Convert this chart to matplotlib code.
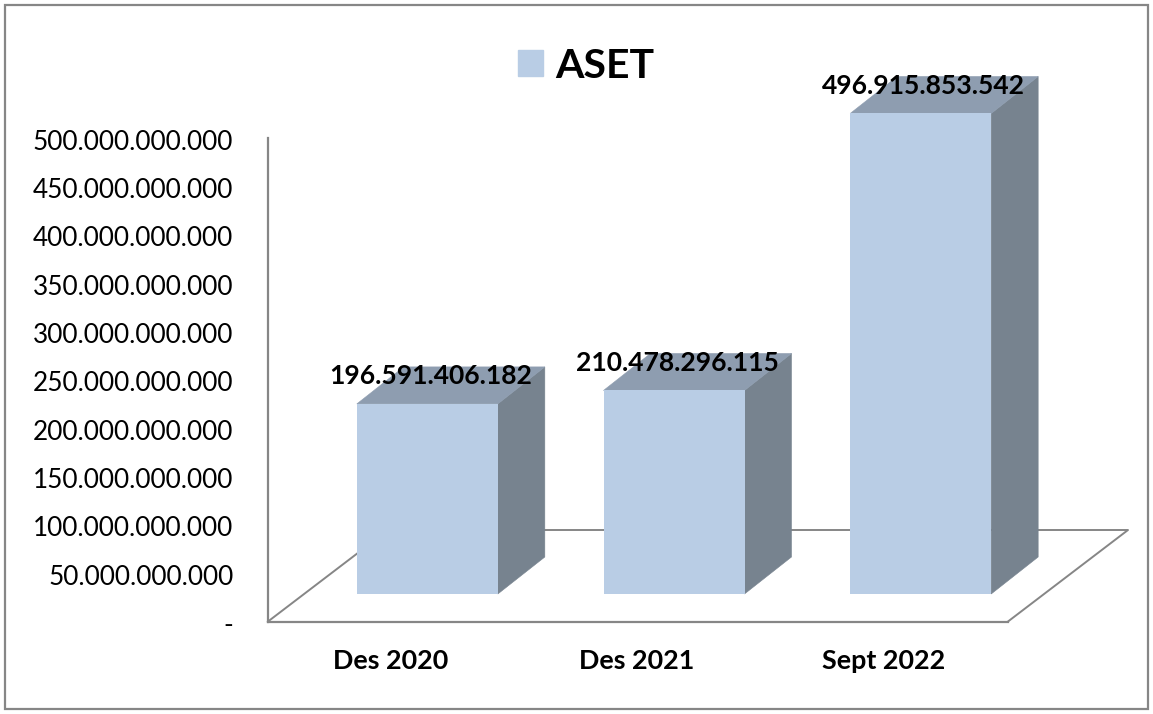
import matplotlib
matplotlib.use("Agg")
import matplotlib.pyplot as plt
from matplotlib.patches import Patch, Rectangle
from matplotlib.transforms import Affine2D, ScaledTranslation

plt.rcParams["font.family"] = ["Lato", "DejaVu Sans"]

categories = ["Des 2020", "Des 2021", "Sept 2022"]
aset = [196591406182, 210478296115, 496915853542]
aset_labels = ["196.591.406.182", "210.478.296.115", "496.915.853.542"]
y_ticks = [0, 50e9, 100e9, 150e9, 200e9, 250e9, 300e9, 350e9, 400e9, 450e9, 500e9]
y_tick_labels = ["-", "50.000.000.000", "100.000.000.000", "150.000.000.000",
                 "200.000.000.000", "250.000.000.000", "300.000.000.000",
                 "350.000.000.000", "400.000.000.000", "450.000.000.000",
                 "500.000.000.000"]

W, H = 1153, 714
FRONT = "#B9CDE5"
TOP = "#8E9DB0"
SIDE = "#77838F"
GREY = "#868686"

fig = plt.figure(figsize=(W / 100, H / 100), dpi=100)
ax = fig.add_axes([268 / W, 1 - 621.5 / H, 740 / W, 483.5 / H])
ax.set_xlim(-0.5, 2.5)
ax.set_ylim(0, 500e9)


def shifted(dx, dy):
    return ax.transData + ScaledTranslation(dx / 100, dy / 100, fig.dpi_scale_trans)


# pixel coordinates of the picture, top-left origin
px = Affine2D().scale(1 / W, -1 / H).translate(0, 1) + fig.transFigure

# floor of the 3d box
ax.plot([268, 388, 1128, 1008], [621.5, 530, 530, 621.5], color=GREY, lw=1.4,
        transform=px, clip_on=False, zorder=1)

bar_w = 141 / (740 / 3)
depth_x = 47 / (740 / 3)
depth_y = 37e9 / 0.967
front = shifted(36, 27.5)
for i, v in enumerate(aset):
    left, right = i - bar_w / 2, i + bar_w / 2
    # side and top faces, the depth is in pixels
    ax.fill([right, right + depth_x, right + depth_x, right],
            [0, depth_y, v + depth_y, v],
            color=SIDE, lw=0.4, transform=front, clip_on=False, zorder=2)
    ax.fill([left, left + depth_x, right + depth_x, right],
            [v, v + depth_y, v + depth_y, v],
            color=TOP, lw=0.4, transform=front, clip_on=False, zorder=2)
ax.bar(range(3), aset, width=bar_w, color=FRONT, transform=front, clip_on=False, zorder=3)

for i, v in enumerate(aset):
    ax.annotate(aset_labels[i], (i, v), xycoords=front, xytext=(3, 27.5), textcoords="offset pixels",
                ha="center", va="center", fontsize=19.1, fontweight="bold", color="black", zorder=5,
                annotation_clip=False)

for s in ["top", "right"]:
    ax.spines[s].set_visible(False)
for s in ["left", "bottom"]:
    ax.spines[s].set_color(GREY)
    ax.spines[s].set_linewidth(1.6)

ax.set_yticks(y_ticks)
ax.set_yticklabels(y_tick_labels, fontsize=18.8)
ax.set_xticks(range(3))
ax.set_xticklabels(categories, fontsize=19.4, fontweight="bold")
ax.tick_params(axis="y", length=0, pad=25)
ax.tick_params(axis="x", length=0, pad=20)

# the labels sit a little under their ticks
for lab in ax.get_yticklabels():
    lab.set_transform(lab.get_transform() + ScaledTranslation(0, -1.5 / 100, fig.dpi_scale_trans))
for lab in ax.get_xticklabels():
    lab.set_transform(lab.get_transform() + ScaledTranslation(-1 / 100, 0, fig.dpi_scale_trans))

leg = ax.legend(handles=[Patch(color=FRONT, label="ASET")], loc="center left",
                bbox_to_anchor=(481 / W, 1 - 66 / H), bbox_transform=fig.transFigure,
                frameon=False, prop={"size": 29.5, "weight": "bold"},
                handlelength=0.62, handleheight=0.62, handletextpad=0.3)

fig.add_artist(Rectangle((5, 5), 1143, 704, transform=px, fill=False,
                         edgecolor=GREY, lw=1.6))

plt.savefig("out.png", dpi=100)
plt.close()
